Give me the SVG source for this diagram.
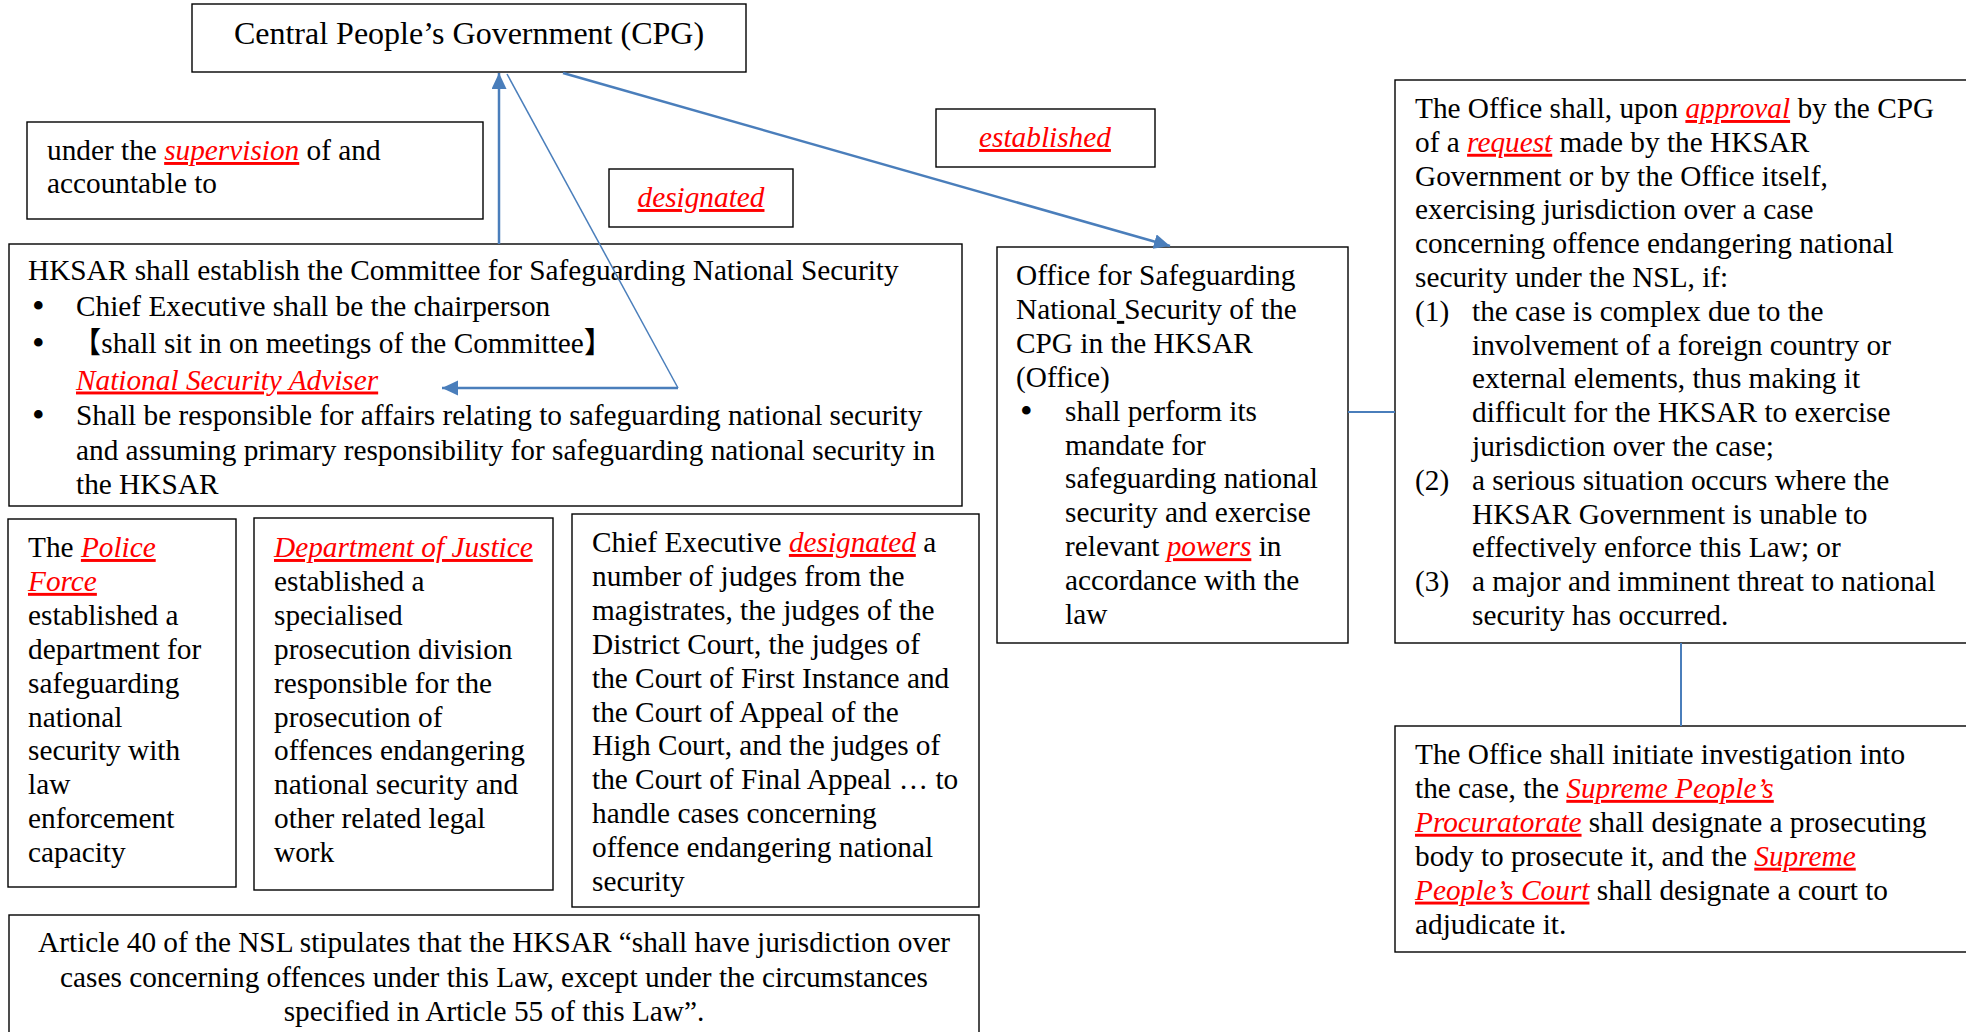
<svg xmlns="http://www.w3.org/2000/svg" width="1966" height="1032" viewBox="0 0 1966 1032">
<style>
.t{font-family:"Liberation Serif","Times New Roman","Noto Sans CJK SC",serif;font-size:29.3px;fill:#000}
.title{font-size:32px}
.b{font-size:36px}
.r{fill:#ff0000;font-style:italic;text-decoration:underline}
.box{fill:#fff;stroke:#000;stroke-width:1.4}
.conn{stroke:#4A7EBB;fill:none}
.thick{stroke-width:2.5}
.thin{stroke-width:1.5}
.mid{stroke-width:2}
</style>
<defs>
<marker id="arr" markerUnits="userSpaceOnUse" markerWidth="17" markerHeight="16" refX="16" refY="7.5" orient="auto">
<path d="M0,0 L16,7.5 L0,15 z" fill="#4A7EBB"/>
</marker>
</defs>
<rect width="1966" height="1032" fill="#fff"/>

<g id="cpg">
<rect class="box" x="192" y="4" width="554" height="68"/>
<text class="t title" x="469" y="44" text-anchor="middle">Central People’s Government (CPG)</text>
</g>

<g id="supervision">
<rect class="box" x="27" y="122" width="456" height="97"/>
<text class="t" x="47" y="160">under the <tspan class="r">supervision</tspan> of and</text>
<text class="t" x="47" y="193">accountable to</text>
</g>

<g id="label-designated">
<rect class="box" x="609" y="169" width="184" height="58"/>
<text class="t" x="701" y="207" text-anchor="middle"><tspan class="r">designated</tspan></text>
</g>

<g id="label-established">
<rect class="box" x="936" y="109" width="219" height="58"/>
<text class="t" x="1045" y="147" text-anchor="middle"><tspan class="r">established</tspan></text>
</g>

<g id="committee">
<rect class="box" x="9" y="244" width="953" height="262"/>
<text class="t" x="28" y="280">HKSAR shall establish the Committee for Safeguarding National Security</text>
<text class="t b" x="32" y="318">•</text>
<text class="t" x="76" y="316">Chief Executive shall be the chairperson</text>
<text class="t b" x="32" y="354.5">•</text>
<text class="t" x="72" y="352.5">【shall sit in on meetings of the Committee】</text>
<text class="t" x="76" y="389.5"><tspan class="r">National Security Adviser</tspan></text>
<text class="t b" x="32" y="427">•</text>
<text class="t" x="76" y="425">Shall be responsible for affairs relating to safeguarding national security</text>
<text class="t" x="76" y="459.5">and assuming primary responsibility for safeguarding national security in</text>
<text class="t" x="76" y="494">the HKSAR</text>
</g>

<g id="office">
<rect class="box" x="997" y="247" width="351" height="396"/>
<text class="t" x="1016" y="285">Office for Safeguarding</text>
<text class="t" x="1016" y="318.9">National<tspan text-decoration="underline"> </tspan>Security of the</text>
<text class="t" x="1016" y="352.8">CPG in the HKSAR</text>
<text class="t" x="1016" y="386.7">(Office)</text>
<text class="t b" x="1020" y="422.6">•</text>
<text class="t" x="1065" y="420.6">shall perform its</text>
<text class="t" x="1065" y="454.5">mandate for</text>
<text class="t" x="1065" y="488.4">safeguarding national</text>
<text class="t" x="1065" y="522.3">security and exercise</text>
<text class="t" x="1065" y="556.2">relevant <tspan class="r">powers</tspan> in</text>
<text class="t" x="1065" y="590.1">accordance with the</text>
<text class="t" x="1065" y="624">law</text>
</g>

<g id="article55">
<rect class="box" x="1395" y="80" width="575" height="563"/>
<text class="t" x="1415" y="118">The Office shall, upon <tspan class="r">approval</tspan> by the CPG</text>
<text class="t" x="1415" y="151.8">of a <tspan class="r">request</tspan> made by the HKSAR</text>
<text class="t" x="1415" y="185.6">Government or by the Office itself,</text>
<text class="t" x="1415" y="219.4">exercising jurisdiction over a case</text>
<text class="t" x="1415" y="253.2">concerning offence endangering national</text>
<text class="t" x="1415" y="287">security under the NSL, if:</text>
<text class="t" x="1415" y="320.8">(1)</text>
<text class="t" x="1472" y="320.8">the case is complex due to the</text>
<text class="t" x="1472" y="354.6">involvement of a foreign country or</text>
<text class="t" x="1472" y="388.4">external elements, thus making it</text>
<text class="t" x="1472" y="422.2">difficult for the HKSAR to exercise</text>
<text class="t" x="1472" y="456">jurisdiction over the case;</text>
<text class="t" x="1415" y="489.8">(2)</text>
<text class="t" x="1472" y="489.8">a serious situation occurs where the</text>
<text class="t" x="1472" y="523.6">HKSAR Government is unable to</text>
<text class="t" x="1472" y="557.4">effectively enforce this Law; or</text>
<text class="t" x="1415" y="591.2">(3)</text>
<text class="t" x="1472" y="591.2">a major and imminent threat to national</text>
<text class="t" x="1472" y="625">security has occurred.</text>
</g>

<g id="investigation">
<rect class="box" x="1395" y="726" width="575" height="226"/>
<text class="t" x="1415" y="764">The Office shall initiate investigation into</text>
<text class="t" x="1415" y="797.9">the case, the <tspan class="r">Supreme People’s</tspan></text>
<text class="t" x="1415" y="831.8"><tspan class="r">Procuratorate</tspan> shall designate a prosecuting</text>
<text class="t" x="1415" y="865.7">body to prosecute it, and the <tspan class="r">Supreme</tspan></text>
<text class="t" x="1415" y="899.6"><tspan class="r">People’s Court</tspan> shall designate a court to</text>
<text class="t" x="1415" y="933.5">adjudicate it.</text>
</g>

<g id="police">
<rect class="box" x="8" y="519" width="228" height="368"/>
<text class="t" x="28" y="557">The <tspan class="r">Police</tspan></text>
<text class="t" x="28" y="590.9"><tspan class="r">Force</tspan></text>
<text class="t" x="28" y="624.8">established a</text>
<text class="t" x="28" y="658.7">department for</text>
<text class="t" x="28" y="692.6">safeguarding</text>
<text class="t" x="28" y="726.5">national</text>
<text class="t" x="28" y="760.4">security with</text>
<text class="t" x="28" y="794.3">law</text>
<text class="t" x="28" y="828.2">enforcement</text>
<text class="t" x="28" y="862.1">capacity</text>
</g>

<g id="doj">
<rect class="box" x="254" y="518" width="299" height="372"/>
<text class="t" x="274" y="557"><tspan class="r">Department of Justice</tspan></text>
<text class="t" x="274" y="590.9">established a</text>
<text class="t" x="274" y="624.8">specialised</text>
<text class="t" x="274" y="658.7">prosecution division</text>
<text class="t" x="274" y="692.6">responsible for the</text>
<text class="t" x="274" y="726.5">prosecution of</text>
<text class="t" x="274" y="760.4">offences endangering</text>
<text class="t" x="274" y="794.3">national security and</text>
<text class="t" x="274" y="828.2">other related legal</text>
<text class="t" x="274" y="862.1">work</text>
</g>

<g id="judges">
<rect class="box" x="572" y="514" width="407" height="393"/>
<text class="t" x="592" y="552">Chief Executive <tspan class="r">designated</tspan> a</text>
<text class="t" x="592" y="585.9">number of judges from the</text>
<text class="t" x="592" y="619.8">magistrates, the judges of the</text>
<text class="t" x="592" y="653.7">District Court, the judges of</text>
<text class="t" x="592" y="687.6">the Court of First Instance and</text>
<text class="t" x="592" y="721.5">the Court of Appeal of the</text>
<text class="t" x="592" y="755.4">High Court, and the judges of</text>
<text class="t" x="592" y="789.3">the Court of Final Appeal … to</text>
<text class="t" x="592" y="823.2">handle cases concerning</text>
<text class="t" x="592" y="857.1">offence endangering national</text>
<text class="t" x="592" y="891">security</text>
</g>

<g id="article40">
<rect class="box" x="9" y="915" width="970" height="130"/>
<text class="t" x="494" y="952" text-anchor="middle">Article 40 of the NSL stipulates that the HKSAR “shall have jurisdiction over</text>
<text class="t" x="494" y="986.5" text-anchor="middle">cases concerning offences under this Law, except under the circumstances</text>
<text class="t" x="494" y="1021" text-anchor="middle">specified in Article 55 of this Law”.</text>
</g>

<g id="connectors">
<line class="conn thick" x1="499" y1="244" x2="499" y2="73" marker-end="url(#arr)"/>
<line class="conn thick" x1="563" y1="73" x2="1170" y2="246" marker-end="url(#arr)"/>
<polyline class="conn thin" points="507,74 678,388"/>
<line class="conn thick" x1="678" y1="388" x2="442" y2="388" marker-end="url(#arr)"/>
<line class="conn mid" x1="1348" y1="412" x2="1395" y2="412"/>
<line class="conn mid" x1="1681" y1="643" x2="1681" y2="726"/>
</g>
</svg>
